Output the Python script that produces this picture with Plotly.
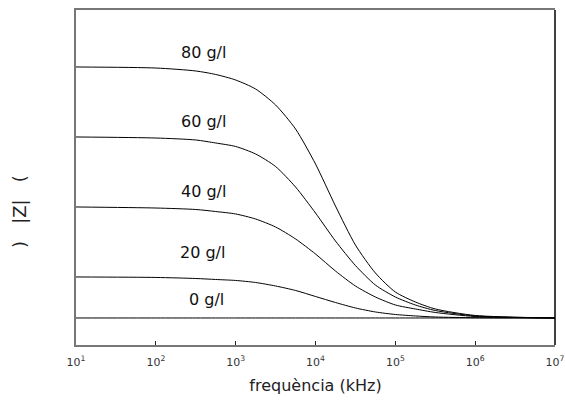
import plotly.graph_objects as go

# frequency samples (kHz)
freq_khz = [10, 100, 316, 562, 1000, 1778, 3162, 5623, 10000, 17783, 31623,
            56234, 100000, 177828, 316228, 1000000, 10000000]

# |Z| (relative units)
z_80 = [3.586, 3.571, 3.529, 3.479, 3.400, 3.271, 3.043, 2.700, 2.200, 1.600,
        1.043, 0.643, 0.371, 0.229, 0.129, 0.036, 0.000]
z_60 = [2.586, 2.571, 2.543, 2.500, 2.450, 2.343, 2.164, 1.871, 1.500, 1.100,
        0.750, 0.471, 0.300, 0.186, 0.107, 0.029, 0.000]
z_40 = [1.586, 1.571, 1.550, 1.521, 1.486, 1.414, 1.300, 1.129, 0.914, 0.671,
        0.457, 0.300, 0.186, 0.129, 0.079, 0.021, 0.000]
z_20 = [0.586, 0.579, 0.564, 0.550, 0.536, 0.507, 0.457, 0.393, 0.307, 0.221,
        0.143, 0.086, 0.050, 0.029, 0.014, 0.004, 0.000]
z_0 = [0.0] * len(freq_khz)

series_names = ["80 g/l", "60 g/l", "40 g/l", "20 g/l", "0 g/l"]
series_values = [z_80, z_60, z_40, z_20, z_0]

# curve labels (log10 of frequency, |Z|)
label_logx = [2.60, 2.60, 2.60, 2.58, 2.63]
label_y = [3.80, 2.81, 1.81, 0.93, 0.26]

tick_vals = [10, 100, 1000, 10000, 100000, 1000000, 10000000]
tick_text = ["10<sup>1</sup>", "10<sup>2</sup>", "10<sup>3</sup>", "10<sup>4</sup>",
             "10<sup>5</sup>", "10<sup>6</sup>", "10<sup>7</sup>"]

x_title = "frequència (kHz)"
y_title = ")\u00a0\u00a0\u00a0|Z|\u00a0\u00a0\u00a0("

FONT = "DejaVu Sans"

fig = go.Figure()
for name, vals in zip(series_names, series_values):
    fig.add_trace(go.Scatter(
        x=freq_khz, y=vals, mode="lines", name=name,
        line=dict(color="black", width=1, shape="spline", smoothing=0.7),
        showlegend=False, hoverinfo="skip",
    ))

for name, lx, ly in zip(series_names, label_logx, label_y):
    fig.add_annotation(x=lx, y=ly, xref="x", yref="y", text=name,
                       showarrow=False,
                       font=dict(family=FONT, size=16, color="#111"))

# y-axis title (sits a bit below the middle in the original)
fig.add_annotation(x=-0.119, y=0.40, xref="paper", yref="paper",
                   text=y_title, textangle=-90, showarrow=False,
                   xanchor="center", yanchor="middle",
                   font=dict(family=FONT, size=18, color="#222"))

fig.update_layout(
    width=565, height=401,
    margin=dict(l=76, r=10, t=10, b=56, autoexpand=False),
    paper_bgcolor="white", plot_bgcolor="white",
    font=dict(family=FONT, color="#222"),
    xaxis=dict(
        type="log", range=[1, 7],
        tickvals=tick_vals, ticktext=tick_text,
        ticks="inside", ticklen=4, tickcolor="#222", tickwidth=1,
        tickfont=dict(family=FONT, size=11, color="#333"),
        ticklabelstandoff=6, automargin=False,
        showgrid=False, zeroline=False,
        showline=True, linecolor="#777", linewidth=1.5, mirror=True,
        title=dict(text=x_title, standoff=12,
                   font=dict(family=FONT, size=16, color="#222")),
    ),
    yaxis=dict(
        range=[-0.386, 4.4],
        showticklabels=False, ticks="", automargin=False,
        showgrid=False, zeroline=False,
        showline=True, linecolor="#777", linewidth=1.5, mirror=False,
    ),
)

# right frame edge drawn darker, as in the original
fig.add_shape(type="line", xref="paper", yref="paper", x0=1, x1=1, y0=0, y1=1,
              line=dict(color="black", width=1.5))

fig.write_html("out.html",
               config={"displayModeBar": False},
               post_script="document.body.style.margin='0';"
                           "document.body.style.overflow='hidden';")
